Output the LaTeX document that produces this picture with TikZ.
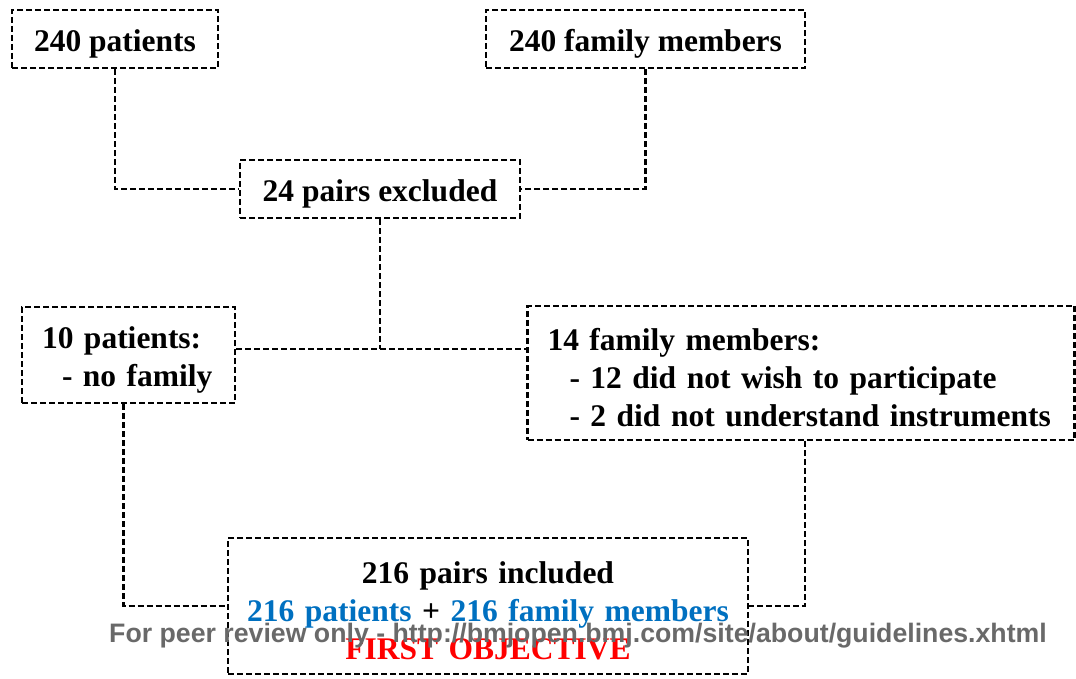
\documentclass[tikz,border=0pt]{standalone}
\usepackage{fontspec}
\setmainfont{Liberation Serif}
\setsansfont{Liberation Sans}
\usepackage{tikz}
\usetikzlibrary{positioning}
\definecolor{pairblue}{RGB}{0,112,192}
\definecolor{markgray}{RGB}{105,105,105}
\tikzset{
    dashline/.style ={
        line width=2.4pt,
        dash pattern=on 6pt off 3pt
    },
    stagebox/.style ={
        shape=rectangle,
        dashline,
        draw=black,
        inner sep=0pt,
        text height=32pt,
        font=\fontsize{31.5}{38}\bfseries,
        align=center
    },
    listbox/.style ={
        stagebox,
        align=left,
        inner xsep=20pt
    }
}

\begin{document}
\begin{tikzpicture}[x=1pt,y=-1pt]
    \useasboundingbox (0,0) rectangle (1076,679);
    \node[stagebox,minimum width=206pt,minimum height=58pt] (patients) at(115,39) {240 patients};
    \node[stagebox,minimum width=319pt,minimum height=58pt] (family) at(645.5,39) {240 family members};
    \node[stagebox,minimum width=280pt,minimum height=58pt] (excluded) at(380,189) {24 pairs excluded};
    \node[listbox,text width=173pt,minimum height=96pt] (nofamily) at(128.5,355)
        {10 patients:\\\hspace*{20pt}- no family};
    \node[listbox,text width=507pt,minimum height=134pt] (declined) at(801,373)
        {14 family members:\\\hspace*{22pt}- 12 did not wish to participate\\\hspace*{22pt}- 2 did not understand instruments};
    \node[stagebox,text width=520pt,minimum height=136pt] (included) at(488,606)
        {216 pairs included\\
        {\color{pairblue}216 patients} + {\color{pairblue}216 family members}\\
        {\color{red}FIRST OBJECTIVE}};
    \coordinate (split) at(380,349);
    \draw[dashline] (patients.south) |- (excluded.west);
    \draw[dashline] (family.south) |- (excluded.east);
    \draw[dashline] (excluded.south) -- (split);
    \draw[dashline] (split -| nofamily.east) -- (split -| declined.west);
    \draw[dashline] ([xshift=-5pt]nofamily.south) |- (included.west);
    \draw[dashline] ([xshift=4pt]declined.south) |- (included.east);
    \node[font=\sffamily\bfseries\fontsize{26.7}{32}\selectfont,text=markgray] (watermark) at(578,636)
        {For peer review only - http://bmjopen.bmj.com/site/about/guidelines.xhtml};
\end{tikzpicture}
\end{document}
